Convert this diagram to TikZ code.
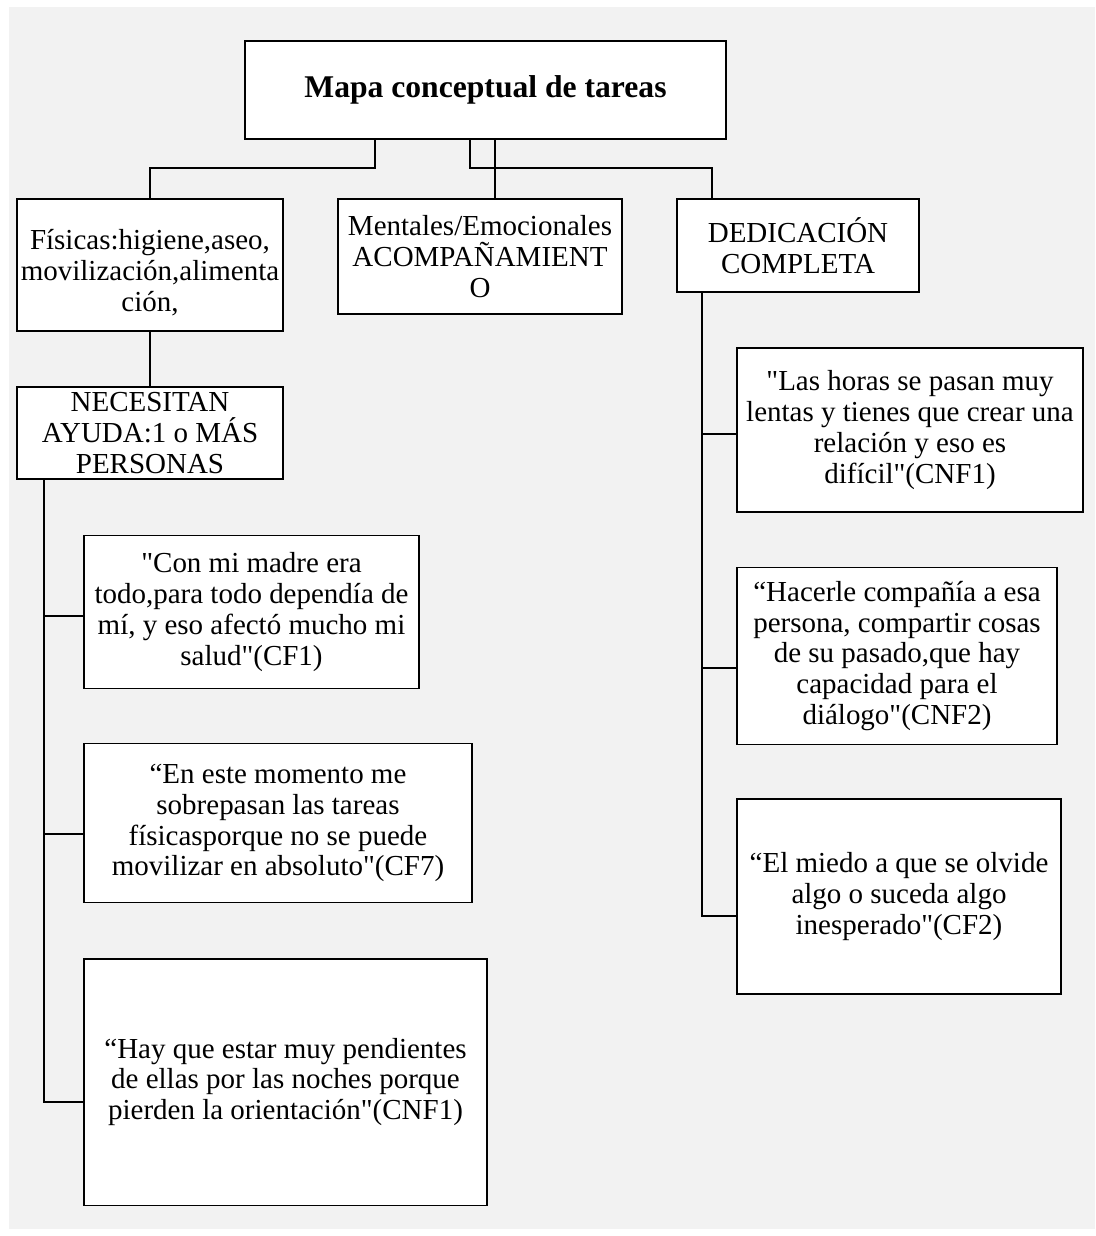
\documentclass[tikz,border=0pt]{standalone}
\usepackage{fontspec}
\setmainfont{Liberation Serif}[Ligatures=TeXOff]
\usepackage{xcolor}
\usepackage{tikz}
\definecolor{bggray}{HTML}{F2F2F2}

\begin{document}
\begin{tikzpicture}[x=0.02cm,y=-0.02cm,
  box/.style={draw,line width=1.1pt,fill=white,inner sep=0pt,align=center,
    font=\fontsize{16.5}{17.6}\selectfont},
  link/.style={line width=1.1pt}]
% Page
\useasboundingbox (0,0) rectangle (1095,1236);
\fill[bggray] (9,7) rectangle (1095,1229);

% Title
\node[box,minimum width=9.62cm,minimum height=1.96cm,
  font=\bfseries\fontsize{18}{20}\selectfont] (title) at (485.5,90) {Mapa conceptual de tareas};

% Task types
\node[box,minimum width=5.32cm,minimum height=2.64cm,
  label={[align=center,font=\fontsize{16.5}{17.6}\selectfont,yshift=-0.15cm]center:
  Físicas:higiene,aseo,\\movilización,alimenta\\ción,}] (fis) at (150,265) {};
\node[box,minimum width=5.68cm,minimum height=2.30cm] (men) at (480,256.5)
  {Mentales/Emocionales\\ACOMPAÑAMIENT\\O};
\node[box,minimum width=4.84cm,minimum height=1.86cm] (ded) at (798,245.5)
  {DEDICACIÓN\\COMPLETA};
\node[box,minimum width=5.32cm,minimum height=1.84cm] (nec) at (150,433)
  {NECESITAN\\AYUDA:1 o MÁS\\PERSONAS};

% Quotes, left
\node[box,minimum width=6.70cm,minimum height=3.06cm] (cfa) at (251.5,612)
  {"Con mi madre era\\todo,para todo dependía de\\mí, y eso afectó mucho mi\\salud"(CF1)};
\node[box,minimum width=7.76cm,minimum height=3.18cm] (cfb) at (278,823)
  {“En este momento me\\sobrepasan las tareas\\físicasporque no se puede\\movilizar en absoluto"(CF7)};
\node[box,minimum width=8.06cm,minimum height=4.94cm] (cfc) at (285.5,1082)
  {“Hay que estar muy pendientes\\de ellas por las noches porque\\pierden la orientación"(CNF1)};

% Quotes, right
\node[box,minimum width=6.92cm,minimum height=3.28cm] (qa) at (910,430)
  {"Las horas se pasan muy\\lentas y tienes que crear una\\relación y eso es\\difícil"(CNF1)};
\node[box,minimum width=6.40cm,minimum height=3.54cm] (qb) at (897,656)
  {“Hacerle compañía a esa\\persona, compartir cosas\\de su pasado,que hay\\capacidad para el\\diálogo"(CNF2)};
\node[box,minimum width=6.48cm,minimum height=3.90cm] (qc) at (899,896.5)
  {“El miedo a que se olvide\\algo o suceda algo\\inesperado"(CF2)};

% Links from title
\draw[link] ([xshift=-2.21cm]title.south) -- ++(0,28) -| (fis.north);
\draw[link] ([xshift=-0.31cm]title.south) -- ++(0,28) -| ([xshift=-1.72cm]ded.north);
\draw[link] ([xshift=0.19cm]title.south) -- ([xshift=0.19cm]title.south |- men.north);
\draw[link] (fis.south) -- (nec.north);

% Branches
\foreach \n/\s in {cfa/-0.08,cfb/-0.22,cfc/-0.40}
  \draw[link] ([xshift=-2.12cm]nec.south) |- ([yshift=\s cm]\n.west);
\foreach \n/\s in {qa/-0.08,qb/-0.24,qc/-0.39}
  \draw[link] ([xshift=-1.92cm]ded.south) |- ([yshift=\s cm]\n.west);
\end{tikzpicture}
\end{document}
